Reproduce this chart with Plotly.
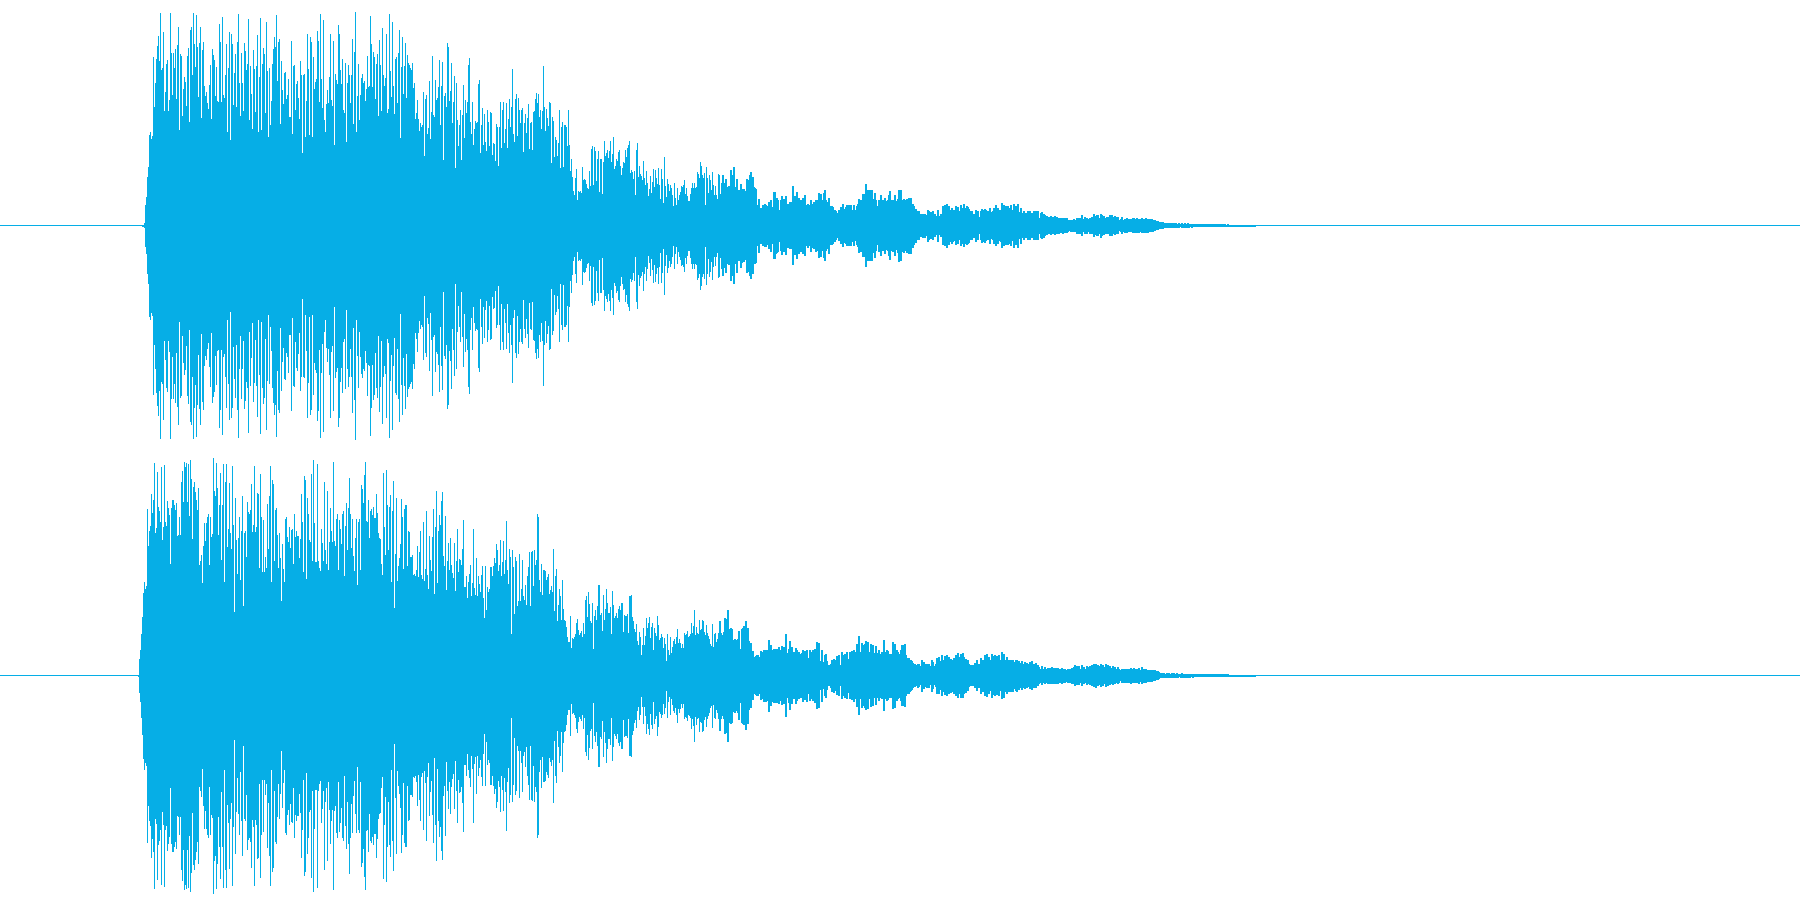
import plotly.graph_objects as go

# Peak readings of the waveform: each entry is the distance of one column's peak
# below a reference level (larger = quieter).  One list per stretch of the recording.
ch1_attack = [672,672,668,612,590,530,500,402,393,414,405,168,318,246,174,135,105,180,36,207,201,93,330,273,189,177,330,297,36,156,282,156,201,144,294,132,78,387,159,165,345,264,228,243,315,165,141,363,87,78,222,36,129,198,42,138,288,126,78,351,147,123,255,285,273,306,324,252,192,354,144,162,177,285,198,300,303,69,123,303,48,282,291,222,129,393,201,93,417,99,129,312,216,159,318,123,39,246,345,156,246,330,126,150,207,189,54,357,195,279,384,147,204,333,195,102,393,228,51,387,189,141,159,336,63,210,408,201,372,300,189,144,108,138,42,240,123,114,369,180,267,309,216,213,294,282,234,348,348,120,399,195,192,327,249,240,291,354,180,222,456,222,219,408,300,99,204,402,108,123,408,168,264,243,234,90,120,303,39,234,321,57,357,393,309,267,306,228,99,297,315,120,432,219,237,249,72,99,207,249,174,327,336,186,423,246,192,222,306,222,114,369,153,33,393,285,189,357,282,231,219,246,240,300,264,165,258,255,45,129,258,153,168,294,189,159,345,117,192,330,81,222,255,231,99,336,324,39,210,288,63,255,339,174,168,306,156,87,411,198,108,279,195,126,291,162,186,192,201,207,186,261,246,354,336,297,354,390]
ch1_body = [366,378,372,273,465,294,282,399,381,240,414,333,165,342,348,237,297,291,258,177,372,255,183,477,285,276,318,126,138,300,270,186,366,303,225,501,246,357,435,372,327,477,342,252,411,297,336,303,192,171,363,399,303,432,384,360,366,363,249,237,456,372,321,432,339,423,450,327,363,435,333,336,462,426,429,480,369,378,495,378,303,441,327,303,426,384,306,441,354,294,378,318,204,399,423,294,279,405,291,327,366,327,321,453,366,339,396,351,309,444,366,363,447,333,330,294,276,306,279,348,327,384,330,195,318,390,324,351,375,303,306,486,348,360,468,408,417,465,426,327,501,378,363,498,372,372,378,435,327,432,510,474,528,570,582,531,504,597,570,573,570,576,498,537,534,537,549,561,564,510,555,444,435,552,438,450,540,474,450,573,474,474,579,483,420,465,456,447,471,450,420,483,459,408,504,495,474,480,453,447,495,522,501,483,486,447,468,441,432,420,516,507,513,534,510,582,447,426,528,495,519,525,537,480,531,552,510,546,585,564,525,576,543,504,558,507,531,549,501,552,594,504,534,606,468,555,588,534,549,570,552,561,582,615,546,591,612,561,597,582,573,555,558,552,537,579,561,585,600,600,579,561,546,561,546,561,558,513,519,531,483,495,522,531,516,612,498,531,576,522,537,567,513,552,582,555,582,594,519,522]
ch1_decay = [220,187,165,260,188,175,258,200,197,206,150,165,190,141,200,230,175,214,210,190,205,208,206,212,245,175,178,250,165,156,207,170,200,202,205,255,270,235,262,278,255,265,252,253,258,265,245,260,238,262,260,216,216,232,233,238,268,240,228,272,237,252,228,252,250,250,245,245,255,198,272,228,250,216,258,232,238,255,232,262,225,275,255,250,255,262,238,250,260,245,248,238,240,245,218,222,245,240,218,210,240,245,272,232,258,265,258,260,288,268,272,278,282,270,260,285,252,265,272,260,255,270,255,275,255,278,268,255,270,275,258,252,235,238,258,222,245,222,192,222,210,232,210,240,210,235,242,218,240,262,258,238,225,262,240,250,232,245,242,240,225,213,240,262,238,240,225,250,242,235,208,210,258,238,235,240,262,235,238,232,260,232,252,250,258,268,265,278,272,272,282,290,280,292,280,285,292,268,272,280,275,295,272,285,282,288,292,268,288,282,285,258,265,255,272,250,262,258,275,268,262,268,272,270,258,272,260,272,255,272,262,252,262,270,258,260,265,272,278,272,282,280,292,268,282,272,290,272,265,292,268,265,270,282,272,282,262,275,285,272,262,270,255,268,262,270,268,248,270,255,272,258,272,258,272,262,255,275,270,250,270,258,272,250,275,262,288,278,272,278,278,280,272,285,272,285,278,285,272,278,272,290,272,292,278,275,290,280,285,292,288,290,290,292,288,290,290,292,288,292,290,292,292,294,294,292,294,294,294,294,298,306,300,298,298,302,296,298,298,292,292,292,292,285,296,296,290,294,292,298,296,292,298,290,292,282,290,288,285,285,292,280,285,292,288,292,296,290,298,290,284,296,285,298,290,288,300,290,290,300,296,290,302,298,295,296,293,296,296,296,300,296,294,294,296,295,294,296,295,296,294,296,295,297,294,296,295,297,296,298,296,298,300,299,302,304,303,306,305,308,306,308,310,309,310,308,310,309,311,309,310,308,310,309,311,310,309,311,309,310,311,309,310,311,309,310,311,311,310,311,311,312,311,312,312,311,312,312,312,312,312,312,312,312,312,312,312,312,312,312,312,312,312,312,312,312,312,312,313,312,313,313,312,313,313,313,314,313,314,314,313,314,314,313,314,314,313,314,314,314,313,314,314,314,314,314,314,314,314]

ch2_attack = [672,624,597,549,498,426,393,414,405,174,285,240,225,129,186,147,36,246,231,63,168,180,213,48,267,228,42,213,225,150,171,192,339,171,147,147,162,177,156,255,252,198,252,93,60,153,33,48,36,153,39,195,27,84,264,108,93,123,147,177,111,342,330,312,396,285,216,270,216,198,189,342,198,258,249,21,120,135,36,111,252,162,66,327,162,39,393,93,39,288,234,96,246,294,45,222,483,141,267,369,261,198,387,240,135,465,246,240,318,153,183,189,177,99,243,222,45,243,228,126,129,351,69,198,363,207,363,318,351,159,294,135,45,393,87,99,330,177,171,252,351,246,321,450,279,354,393,204,198,258,273,228,291,237,234,339,189,258,240,255,255,321,264,129,213,363,75,87,384,141,189,267,273,69,330,27,216,333,333,39,330,351,360,234,276,330,93,297,339,120,357,273,171,240,273,33,270,285,204,189,357,207,234,279,189,180,375,225,156,297,171,81,189,291,204,315,360,261,204,402,213,204,357,102,114,156,72,33,210,213,147,261,180,174,192,168,201,201,129,186,246,261,264,339,372,66,228,312,57,162,297,168,132,393,180,90,471,309,141,390,345,321,279,144,198,354,174,162,162,345,240,243,318,318,312,372,369,375,357,285,378,303]
ch2_body = [240,372,384,213,390,354,180,372,414,255,327,360,258,174,429,228,120,396,240,192,222,150,123,315,345,195,417,330,276,357,261,342,366,381,276,420,330,234,363,324,327,342,294,207,408,408,375,441,393,369,342,435,396,234,411,432,321,435,375,399,423,372,345,441,501,345,477,408,423,414,348,348,375,345,321,336,279,297,360,342,267,375,333,270,369,327,210,357,399,294,318,549,297,348,489,318,330,465,450,309,450,414,327,435,447,402,462,375,348,303,465,303,300,405,297,342,327,189,198,387,423,339,432,357,357,360,387,378,369,429,417,405,423,294,480,375,354,510,462,414,435,507,387,474,507,510,528,558,573,573,495,591,561,564,558,549,516,504,537,552,546,540,558,516,549,447,435,498,423,459,510,516,456,594,495,477,507,465,402,402,492,486,540,432,507,474,414,456,486,486,468,549,420,462,501,495,486,501,474,465,477,456,456,543,492,495,495,489,546,435,435,432,498,510,534,543,519,570,582,543,558,612,582,531,582,555,501,531,516,498,561,528,516,597,531,546,555,495,522,567,561,549,558,591,561,579,630,549,597,612,558,606,588,570,564,579,558,534,576,564,576,591,579,591,546,552,549,540,558,555,549,516,546,525,477,552,528,546,549,507,537,534,507,510,543,552,522,546,555,564,579,585,519,588,549,546,573,564,546,540,510,546]
ch2_decay = [112,105,112,95,52,55,110,28,85,135,82,85,135,118,115,135,120,115,92,145,85,82,78,152,62,122,82,122,135,128,165,152,170,182,168,165,165,170,152,155,172,148,170,148,175,150,118,180,135,148,178,145,170,145,150,145,140,150,138,165,140,168,102,158,175,145,122,142,140,162,155,192,142,150,182,155,160,158,148,155,152,172,148,172,178,150,182,155,150,158,145,188,125,190,128,182,148,205,185,165,160,182,198,195,195,190,178,195,175,188,180,168,175,165,195,155,165,180,160,165,155,175,185,155,160,152,158,148,155,160,132,145,108,155,128,135,155,130,122,160,125,155,160,132,165,135,158,190,138,158,175,150,160,155,162,120,170,155,150,152,165,160,162,160,125,165,130,170,150,155,160,150,135,165,135,132,165,172,172,172,178,180,182,188,195,192,195,198,190,192,198,178,192,185,195,192,190,192,190,198,205,178,185,198,198,192,172,195,170,182,165,182,178,168,172,165,188,170,185,175,178,182,172,178,165,185,158,170,160,175,158,170,175,175,182,180,192,195,208,195,205,195,188,205,180,195,190,172,195,178,185,165,185,162,178,170,180,182,160,178,168,165,182,168,175,165,180,155,180,160,182,178,170,185,178,188,178,192,178,185,190,180,178,185,182,188,182,198,190,185,200,188,192,200,185,195,182,205,190,198,188,208,195,200,205,198,205,208,200,205,205,202,205,202,205,200,205,202,202,205,202,202,205,205,202,205,205,205,208,212,205,210,205,208,202,210,200,195,205,198,205,198,205,195,208,200,208,205,198,208,200,198,205,195,200,192,205,190,205,195,198,192,205,195,205,200,192,205,195,205,198,205,202,198,208,200,205,205,200,205,210,205,205,205,205,208,205,208,205,208,202,205,208,203,205,208,205,208,202,208,200,210,205,210,205,210,208,212,208,212,208,210,212,210,212,214,212,216,218,219,220,219,220,220,219,220,219,220,221,219,220,219,221,220,219,220,221,220,219,220,221,220,220,221,220,221,220,221,221,220,221,221,221,221,221,221,221,221,221,221,221,221,221,221,221,221,221,221,221,221,221,221,221,222,221,222,222,221,222,222,222,223,222,223,223,223,224,223,224,224,223,224,224,223,224,224,223,224,224,224,223,224,224,224,224,224,224,224,224]

TAIL_REF = 675          # reference level of the attack and body readings
CH1_DECAY_REF = 316     # reference level of channel 1's decay readings
CH2_DECAY_REF = 226     # reference level of channel 2's decay readings
FULL_SCALE = 675

COLOR = "#06AEE6"
DECAY_STEP = 3 / 2.85


def channel(attack, body, decay, decay_ref, attack_start):
    xs, amps = [], []
    for i, d in enumerate(attack):
        xs.append(attack_start + i + 0.5)
        amps.append((TAIL_REF - d) / FULL_SCALE)
    for i, d in enumerate(body):
        xs.append(420 + i + 0.5)
        amps.append((TAIL_REF - d) / FULL_SCALE)
    for i, d in enumerate(decay):
        xs.append(720 + (i + 0.5) * DECAY_STEP)
        amps.append((decay_ref - d) / FULL_SCALE)
    return xs, amps


x1, a1 = channel(ch1_attack, ch1_body, ch1_decay, CH1_DECAY_REF, 142)
x2, a2 = channel(ch2_attack, ch2_body, ch2_decay, CH2_DECAY_REF, 138)

fig = go.Figure()
for xs, amps, xa, ya in ((x1, a1, "x", "y"), (x2, a2, "x2", "y2")):
    widths = [1.06 if x > 720 else 1 for x in xs]
    fig.add_trace(go.Bar(x=xs, y=[2 * a for a in amps], base=[-a for a in amps],
                         width=widths, marker=dict(color=COLOR, line=dict(width=0)),
                         xaxis=xa, yaxis=ya, hoverinfo="skip", showlegend=False))
    fig.add_trace(go.Scatter(x=[0, 1800], y=[0, 0], mode="lines",
                             line=dict(color=COLOR, width=1),
                             xaxis=xa, yaxis=ya, hoverinfo="skip", showlegend=False))

axis = dict(visible=False, fixedrange=True, showgrid=False, zeroline=False)
yrange = [-449 / 450, 451 / 450]
fig.update_layout(
    width=1800, height=900, autosize=False,
    margin=dict(l=0, r=0, t=0, b=0, pad=0),
    paper_bgcolor="white", plot_bgcolor="white",
    bargap=0, barmode="overlay", showlegend=False,
    xaxis=dict(axis, range=[0, 1800], domain=[0, 1], anchor="y"),
    yaxis=dict(axis, range=yrange, domain=[0.5, 1], anchor="x"),
    xaxis2=dict(axis, range=[0, 1800], domain=[0, 1], anchor="y2"),
    yaxis2=dict(axis, range=yrange, domain=[0, 0.5], anchor="x2"),
)
fig.write_html("out.html", config={"displayModeBar": False},
               post_script="document.body.style.margin='0';document.documentElement.style.overflow='hidden';")
